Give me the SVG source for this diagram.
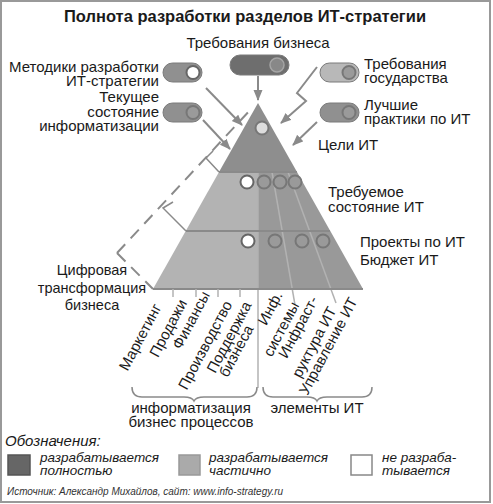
<svg xmlns="http://www.w3.org/2000/svg" width="493" height="504" viewBox="0 0 493 504">
<defs>
<marker id="ah" markerUnits="userSpaceOnUse" markerWidth="11" markerHeight="10" refX="10" refY="4.5" orient="auto">
<path d="M0,0 L11,4.5 L0,9 z" fill="#8a8a8a"/>
</marker>
<style>
text{font-family:"Liberation Sans",Arial,sans-serif;fill:#1a1a1a;font-size:15px}
.t{font-weight:bold;font-size:16.5px}
.r{text-anchor:end}
.m{text-anchor:middle}
.it{font-style:italic}
.lg{font-style:italic;font-size:13.5px}
.arr{stroke:#8a8a8a;stroke-width:2;fill:none;marker-end:url(#ah)}
.pill{stroke:#7a7a7a;stroke-width:1}
.kn{fill:#9a9a9a;stroke:#777;stroke-width:2}
.kw{fill:#fff;stroke:#666;stroke-width:2}
.lvl{stroke:#8a8a8a;stroke-width:2}
.div{stroke:#b2b2b2;stroke-width:1.5;fill:none}
.br{stroke:#8a8a8a;stroke-width:1.5;fill:none}
.dash{stroke:#8a8a8a;stroke-width:2;fill:none;stroke-dasharray:12 8}
</style>
</defs>
<rect x="1" y="1" width="489" height="501" fill="#fff" stroke="#999" stroke-width="2"/>
<text class="t m" x="245" y="22">Полнота разработки разделов ИТ-стратегии</text>

<g id="pyramid">
<polygon points="258,103 219,172 297,172" fill="#8e8e8e"/>
<polygon points="219,172 258,172 258,289 153,289" fill="#b3b3b3"/>
<polygon points="258,172 297,172 363,289 258,289" fill="#999"/>
<line class="div" x1="258" y1="172" x2="258" y2="388"/>
<line class="div" x1="272" y1="172" x2="295" y2="305"/>
<line class="div" x1="288" y1="172" x2="336" y2="303"/>
<line class="lvl" x1="219" y1="172" x2="297" y2="172"/>
<line class="lvl" x1="186" y1="231" x2="330" y2="231"/>
<line class="lvl" x1="153" y1="289" x2="363" y2="289"/>
<g class="div">
<line x1="173" y1="289" x2="173" y2="297"/>
<line x1="196" y1="289" x2="196" y2="297"/>
<line x1="218" y1="289" x2="218" y2="297"/>
<line x1="240" y1="289" x2="240" y2="297"/>
</g>
<circle cx="262" cy="128" r="6.5" fill="#ddd" stroke="#777" stroke-width="2"/>
<circle class="kw" cx="247" cy="182" r="6.5"/>
<circle class="kn" cx="264" cy="182" r="6.5"/>
<circle class="kn" cx="280" cy="182" r="6.5"/>
<circle class="kn" cx="295" cy="182" r="6.5"/>
<circle class="kw" cx="248" cy="241" r="6.5"/>
<circle class="kn" cx="275" cy="241" r="6.5"/>
<circle class="kn" cx="302" cy="241" r="6.5"/>
<circle class="kn" cx="323" cy="241" r="6.5"/>
</g>

<g id="toggle-business">
<rect class="pill" x="230" y="55" width="59" height="20" rx="10" fill="#6e6e6e"/>
<circle cx="277" cy="65" r="7" fill="#888" stroke="#a5a5a5" stroke-width="1.5"/>
<text class="m" x="258" y="48">Требования бизнеса</text>
</g>
<g id="toggle-methods">
<rect class="pill" x="163" y="63" width="39" height="19" rx="9.5" fill="#909090"/>
<circle class="kw" cx="193" cy="72.5" r="6.5"/>
<text class="r" x="159" y="72">Методики разработки</text>
<text class="r" x="159" y="86">ИТ-стратегии</text>
</g>
<g id="toggle-current">
<rect class="pill" x="163" y="103" width="39" height="19" rx="9.5" fill="#909090"/>
<circle class="kn" cx="193" cy="112.5" r="6.5"/>
<text class="r" x="159" y="102">Текущее</text>
<text class="r" x="159" y="116.5">состояние</text>
<text class="r" x="159" y="131">информатизации</text>
</g>
<g id="toggle-gov">
<rect class="pill" x="320" y="63" width="39" height="19" rx="9.5" fill="#b8b8b8"/>
<circle class="kn" cx="349" cy="72.5" r="6.5"/>
<text x="364" y="69">Требования</text>
<text x="364" y="83">государства</text>
</g>
<g id="toggle-best">
<rect class="pill" x="320" y="103" width="39" height="19" rx="9.5" fill="#909090"/>
<circle class="kn" cx="349" cy="112.5" r="6.5"/>
<text x="364" y="110">Лучшие</text>
<text x="364" y="124">практики по ИТ</text>
</g>

<g id="level-labels">
<text x="318" y="150">Цели ИТ</text>
<text x="328" y="197">Требуемое</text>
<text x="328" y="212">состояние ИТ</text>
<text x="360" y="247">Проекты по ИТ</text>
<text x="360" y="265">Бюджет ИТ</text>
<text class="m" x="92" y="275" style="font-size:14.5px">Цифровая</text>
<text class="m" x="92" y="293" style="font-size:14.5px">трансформация</text>
<text class="m" x="92" y="310" style="font-size:14.5px">бизнеса</text>
</g>

<g id="connectors">
<line class="arr" x1="258" y1="76" x2="258" y2="100"/>
<line class="arr" x1="206" y1="88" x2="242" y2="125"/>
<line class="arr" x1="203" y1="120" x2="230" y2="149"/>
<polyline class="arr" points="317,67 297,93 306,101 281,123"/>
<line class="arr" x1="317" y1="122" x2="293" y2="145"/>
<line class="dash" x1="117" y1="253" x2="253" y2="107"/>
<line class="dash" x1="117" y1="253" x2="153" y2="289"/>
<polyline class="br" points="213,151 206,158 219,172"/>
<polyline class="br" points="173,202 163,208 186,231"/>
<path class="br" d="M132,387 q0,10 10,10 h42 q8,0 10,4 q2,-4 10,-4 h43 q10,0 10,-10"/>
<path class="br" d="M263,387 q0,10 10,10 h34 q8,0 10,4 q2,-4 10,-4 h35 q10,0 10,-10"/>
</g>

<g id="rot-labels">
<text class="m" transform="translate(140,337) rotate(-62)" dy=".35em">Маркетинг</text>
<text class="m" transform="translate(168,328) rotate(-62)" dy=".35em">Продажи</text>
<text class="m" transform="translate(191,320) rotate(-62)" dy=".35em">Финансы</text>
<text class="m" transform="translate(205,345) rotate(-62)" dy=".35em">Производство</text>
<text class="m" transform="translate(229,337) rotate(-62)" dy=".35em">Поддержка</text>
<text class="m" transform="translate(236,351) rotate(-62)" dy=".35em">бизнеса</text>
<text class="m" transform="translate(270,308) rotate(-62)" dy=".35em">Инф.</text>
<text class="m" transform="translate(281,329) rotate(-62)" dy=".35em">системы</text>
<text class="m" transform="translate(298,327) rotate(-62)" dy=".35em">Инфраст-</text>
<text class="m" transform="translate(314,342) rotate(-62)" dy=".35em">руктура ИТ</text>
<text class="m" transform="translate(328,346) rotate(-62)" dy=".35em">Управление ИТ</text>
</g>

<g id="group-labels">
<text class="m" x="191" y="413">информатизация</text>
<text class="m" x="191" y="427">бизнес процессов</text>
<text class="m" x="317" y="413">элементы ИТ</text>
</g>

<g id="legend">
<text class="it" x="5" y="446">Обозначения:</text>
<rect x="8" y="455" width="22" height="20" fill="#666" stroke="#555" stroke-width="1.5"/>
<text class="lg" x="40" y="462">разрабатывается</text>
<text class="lg" x="40" y="475">полностью</text>
<rect x="179" y="455" width="21" height="20" fill="#aaa" stroke="#999" stroke-width="1.5"/>
<text class="lg" x="209" y="462">разрабатывается</text>
<text class="lg" x="209" y="475">частично</text>
<rect x="351" y="455" width="21" height="20" fill="#fff" stroke="#888" stroke-width="1.5"/>
<text class="lg" x="382" y="462">не разраба-</text>
<text class="lg" x="382" y="475">тывается</text>
<text class="it" x="7" y="495" style="font-size:10px;fill:#333">Источник: Александр Михайлов, сайт: www.info-strategy.ru</text>
</g>
</svg>
